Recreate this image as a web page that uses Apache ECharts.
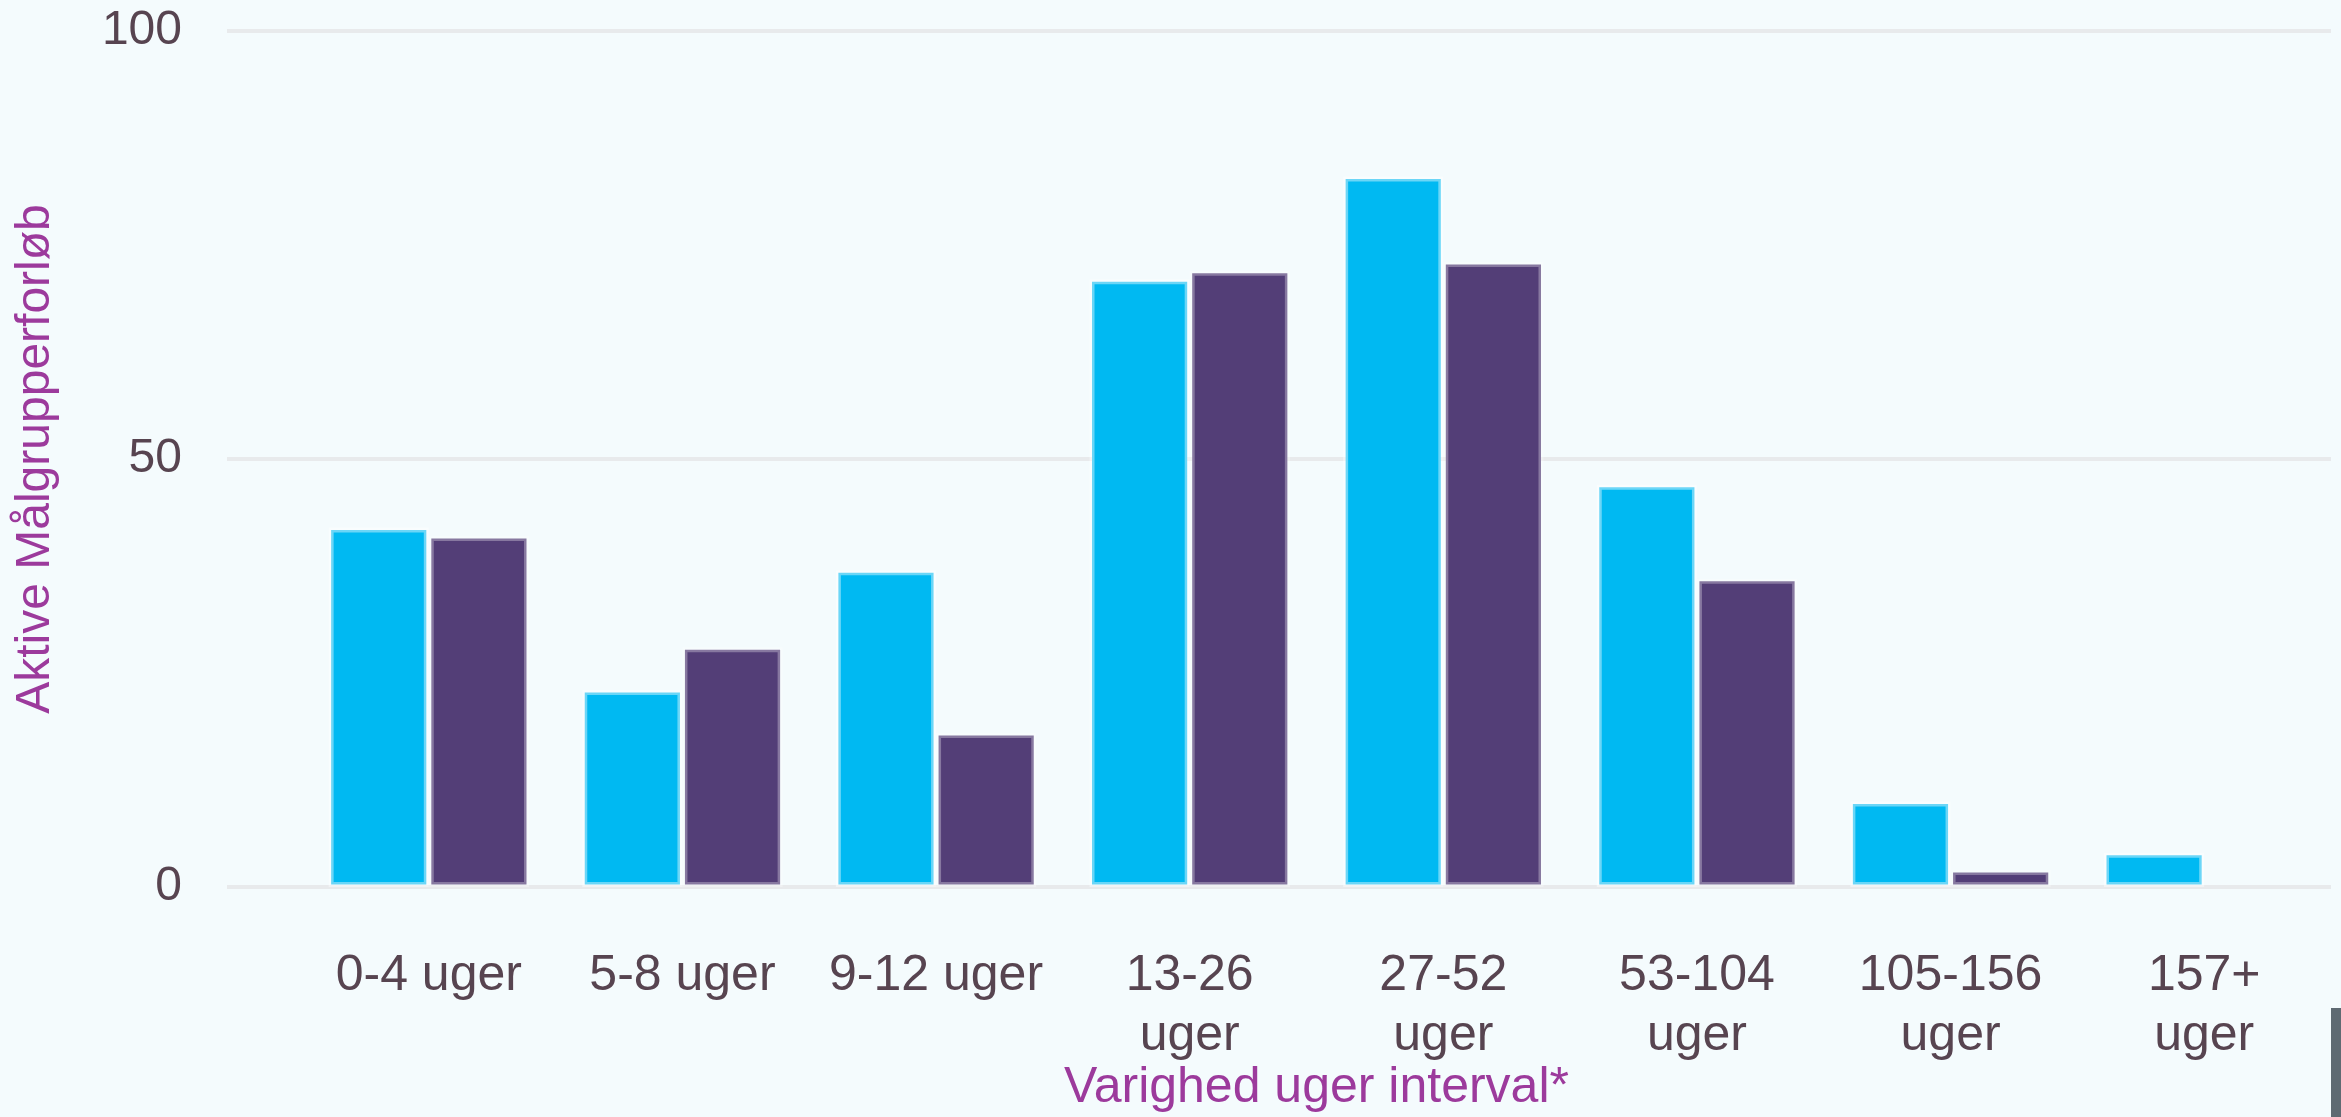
<!DOCTYPE html>
<html>
<head>
<meta charset="utf-8">
<script src="https://cdn.jsdelivr.net/npm/echarts@6/dist/echarts.min.js"></script>
<style>
html,body{margin:0;padding:0;background:#f4fbfd;}
#c{width:2341px;height:1117px;}
</style>
</head>
<body>
<div id="c"></div>
<script>
const categories = ['0-4 uger','5-8 uger','9-12 uger','13-26 uger','27-52 uger','53-104 uger','105-156 uger','157+ uger'];
const seriesCyan = [42, 23, 37, 71, 83, 47, 10, 4];
const seriesPurple = [41, 28, 18, 72, 73, 36, 2, null];
const yMin = 0, yMax = 100, yInterval = 50;
const xTitle = 'Varighed uger interval*';
const yTitle = 'Aktive Målgrupperforløb';

const FONT = "'Liberation Sans', Arial, sans-serif";
const chart = echarts.init(document.getElementById('c'), null, {renderer: 'canvas'});
chart.setOption({
  backgroundColor: '#f4fbfd',
  animation: false,
  grid: [
    {left: 227, right: 10, top: 31, bottom: 230, containLabel: false, outerBoundsMode: 'none'},
    {left: 302, right: 10, top: 31, bottom: 230, containLabel: false, outerBoundsMode: 'none'}
  ],
  xAxis: [
    {gridIndex: 0, type: 'category', data: categories, show: false},
    {gridIndex: 1, type: 'category', data: categories,
     axisLine: {show: false}, axisTick: {show: false},
     axisLabel: {
       margin: 59, fontSize: 50, lineHeight: 60, color: '#574450', fontFamily: FONT,
       interval: 0,
       formatter: (v, i) => i >= 3 ? v.replace(' ', '\n') : v
     },
     name: xTitle, nameLocation: 'middle', nameGap: 176, nameMoveOverlap: false,
     nameTextStyle: {fontSize: 50, color: '#9c3a9c', fontFamily: FONT}
    }
  ],
  yAxis: [
    {gridIndex: 0, type: 'value', min: yMin, max: yMax, interval: yInterval,
     axisLine: {show: false}, axisTick: {show: false},
     splitLine: {lineStyle: {color: '#e8eaec', width: 4}},
     axisLabel: {margin: 45, fontSize: 48, color: '#574450', fontFamily: FONT},
     name: yTitle, nameLocation: 'middle', nameGap: 167,
     nameTextStyle: {fontSize: 48, color: '#9c3a9c', fontFamily: FONT}
    },
    {gridIndex: 1, type: 'value', min: yMin, max: yMax, interval: yInterval, show: false}
  ],
  series: [
    {type: 'bar', xAxisIndex: 1, yAxisIndex: 1, data: seriesCyan,
     barGap: '0%', barCategoryGap: '21%',
     itemStyle: {color: '#00b9f2', borderColor: 'rgba(255,255,255,0.42)', borderWidth: 5}},
    {type: 'bar', xAxisIndex: 1, yAxisIndex: 1, data: seriesPurple,
     barGap: '0%', barCategoryGap: '21%',
     itemStyle: {color: '#533e77', borderColor: 'rgba(255,255,255,0.3)', borderWidth: 5}}
  ],
  graphic: [
    {type: 'rect', shape: {x: 2331, y: 1008, width: 10, height: 109},
     style: {fill: '#5e6a72'}}
  ]
});
</script>
</body>
</html>
